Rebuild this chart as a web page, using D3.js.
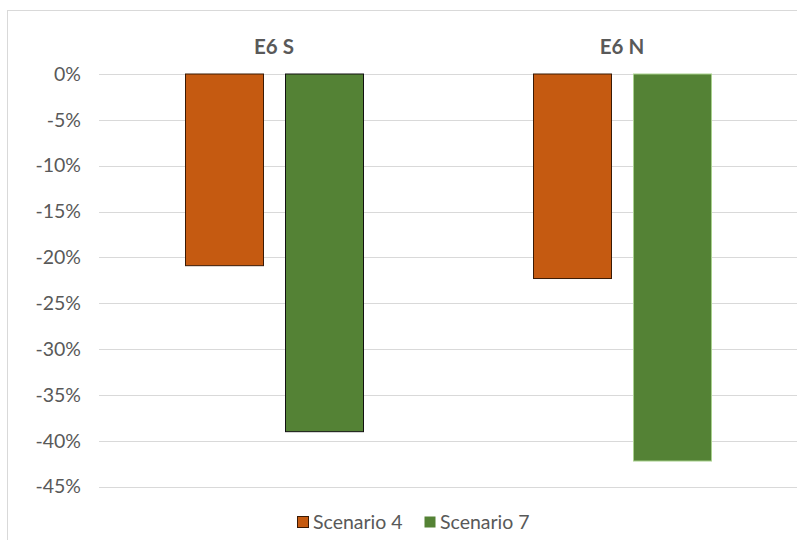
<!DOCTYPE html>
<html>
<head>
<meta charset="utf-8">
<script src="https://cdn.jsdelivr.net/npm/d3@7"></script>
<style>
  html, body { margin: 0; padding: 0; background: #fff; }
  svg { display: block; font-family: Lato, "Liberation Sans", "DejaVu Sans", sans-serif; }
</style>
</head>
<body>
<svg id="chart" width="797" height="540"></svg>
<script>
// Category groups and series values (percent change)
const categories = ["E6 S", "E6 N"];
const seriesNames = ["Scenario 4", "Scenario 7"];
const scenario4 = [-20.9, -22.3];
const scenario7 = [-39.0, -42.2];
const tickValues = [0, -5, -10, -15, -20, -25, -30, -35, -40, -45];

const seriesValues = [scenario4, scenario7];
const seriesColors = ["#C55A11", "#548235"];

const rows = [];
categories.forEach((c, i) => {
  seriesNames.forEach((s, j) => rows.push({ cat: c, series: s, value: seriesValues[j][i], si: j, ci: i }));
});

const svg = d3.select("#chart");
const fontStack = "Lato, 'Liberation Sans', sans-serif";

// Chart frame
svg.append("rect")
  .attr("x", 7.5).attr("y", 10.5)
  .attr("width", 800).attr("height", 540)
  .attr("fill", "none").attr("stroke", "#d9d9d9").attr("stroke-width", 1);

const plotLeft = 100, plotRight = 796;
const y = d3.scaleLinear().domain([0, -45]).range([74, 486.7]);
const x = d3.scaleBand().domain(categories).range([plotLeft, plotRight]).paddingInner(0).paddingOuter(0);
const xs = d3.scaleBand().domain(seriesNames).range([0, 178]).paddingInner(0.22).paddingOuter(0);

// Gridlines
svg.append("g").selectAll("line")
  .data(tickValues).join("line")
  .attr("x1", 99).attr("x2", 797)
  .attr("y1", d => Math.round(y(d)) + 0.5).attr("y2", d => Math.round(y(d)) + 0.5)
  .attr("stroke", "#d9d9d9").attr("stroke-width", 1);

// Value axis labels
const yAxis = d3.axisLeft(y).tickValues(tickValues).tickSize(0).tickPadding(0)
  .tickFormat(d => d + "%");
const ya = svg.append("g").attr("transform", "translate(81,0)").call(yAxis);
ya.select(".domain").remove();
ya.selectAll("text").attr("fill", "#595959").attr("font-size", 19.5)
  .attr("font-family", fontStack);

// Bars
const barStroke = (d) => (d.si === 1 && d.ci === 1) ? "#a9d18e" : (d.si === 0 ? "#3a1a05" : "#111");
svg.append("g").selectAll("rect")
  .data(rows).join("rect")
  .attr("x", d => x(d.cat) + x.bandwidth() / 2 - 89 + xs(d.series) + 0.5)
  .attr("y", d => y(0))
  .attr("width", xs.bandwidth())
  .attr("height", d => y(d.value) - y(0))
  .attr("fill", d => seriesColors[d.si])
  .attr("stroke", barStroke)
  .attr("stroke-width", 1);

// Category labels along the top
const xAxis = d3.axisTop(x).tickSize(0).tickPadding(0);
const xa = svg.append("g").attr("transform", "translate(0,54)").call(xAxis);
xa.select(".domain").remove();
xa.selectAll("text").attr("fill", "#595959").attr("font-size", 20.5)
  .attr("font-weight", "bold")
  .attr("font-family", fontStack);

// Legend
const legendX = [297, 424];
const legend = svg.append("g").selectAll("g")
  .data(seriesNames).join("g")
  .attr("transform", (d, i) => `translate(${legendX[i]},516)`);
legend.append("rect")
  .attr("x", 0.5).attr("y", 0.5).attr("width", 11).attr("height", 11)
  .attr("fill", (d, i) => seriesColors[i])
  .attr("stroke", (d, i) => i === 0 ? "#3a1a05" : "none");
legend.append("text")
  .attr("x", 16).attr("y", 13)
  .attr("fill", "#595959").attr("font-size", 19.5)
  .attr("font-family", fontStack)
  .text(d => d);
</script>
</body>
</html>
